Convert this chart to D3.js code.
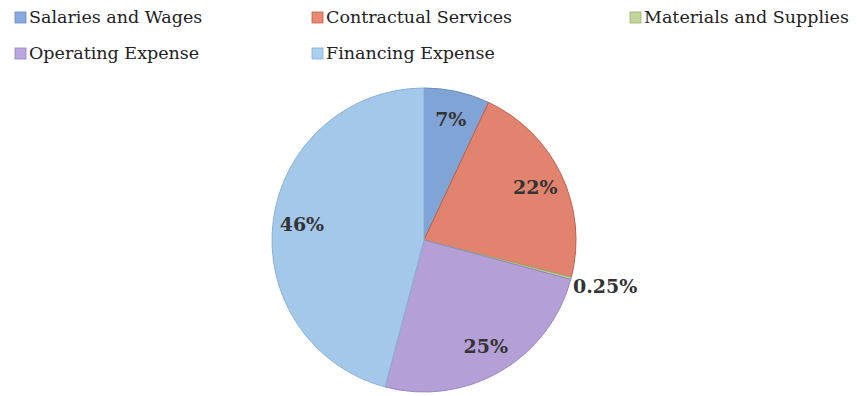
<!DOCTYPE html>
<html>
<head>
<meta charset="utf-8">
<script src="https://cdn.jsdelivr.net/npm/d3@7"></script>
<style>
  body { margin: 0; background: #fff; }
  svg { display: block; }
</style>
</head>
<body>
<svg id="chart" width="857" height="396"></svg>
<script>
const categories = ["Salaries and Wages", "Contractual Services", "Materials and Supplies", "Operating Expense", "Financing Expense"];
const values = [7, 22, 0.25, 25, 46];
const labels = ["7%", "22%", "0.25%", "25%", "46%"];
const colors = ["#86aadf", "#e98873", "#c3d59a", "#bba6df", "#a9cff1"];
const strokes = ["#6a8cc0", "#c0604c", "#9ab06a", "#9a86c0", "#88b0d6"];

const svg = d3.select("#chart");
const cx = 424, cy = 240, r = 152;

// legend
const legendPos = [[15, 17], [312, 17], [630, 17], [15, 53], [312, 53]];
const legend = svg.append("g");
categories.forEach((c, i) => {
  const g = legend.append("g").attr("transform", `translate(${legendPos[i][0]},${legendPos[i][1]})`);
  g.append("rect").attr("x", 0).attr("y", -5).attr("width", 11).attr("height", 11)
    .attr("fill", colors[i]).attr("stroke", strokes[i]).attr("stroke-width", 0.8);
  g.append("text").attr("x", 14).attr("y", 0).attr("dy", "0.35em")
    .attr("font-family", "DejaVu Serif").attr("font-size", 17.5).attr("fill", "#222")
    .text(c);
});

// gradients
const defs = svg.append("defs");
colors.forEach((col, i) => {
  const grad = defs.append("radialGradient").attr("id", "g" + i)
    .attr("gradientUnits", "userSpaceOnUse").attr("cx", cx).attr("cy", cy).attr("r", r);
  grad.append("stop").attr("offset", "0%").attr("stop-color", d3.color(col).brighter(0.15));
  grad.append("stop").attr("offset", "100%").attr("stop-color", d3.color(col).darker(0.1));
});

const pie = d3.pie().sort(null).value(d => d);
const arcs = pie(values);
const arc = d3.arc().innerRadius(0).outerRadius(r);
const labelArc = d3.arc().innerRadius(r * 0.81).outerRadius(r * 0.81);

const g = svg.append("g").attr("transform", `translate(${cx},${cy})`);
g.selectAll("path").data(arcs).join("path")
  .attr("d", arc)
  .attr("fill", (d, i) => `url(#g${i})`)
  .attr("stroke", (d, i) => strokes[i])
  .attr("stroke-width", 1);

g.selectAll("text.lbl").data(arcs).join("text")
  .attr("class", "lbl")
  .attr("font-family", "DejaVu Serif").attr("font-weight", "bold").attr("font-size", 19)
  .attr("fill", "#333")
  .attr("dy", "0.35em")
  .each(function(d, i) {
    const t = d3.select(this);
    if (i === 2) {
      const a = (d.startAngle + d.endAngle) / 2;
      t.attr("x", Math.sin(a) * (r + 2)).attr("y", -Math.cos(a) * (r + 2) + 8).attr("text-anchor", "start");
    } else {
      const [x, y] = labelArc.centroid(d);
      t.attr("x", x).attr("y", y).attr("text-anchor", "middle");
    }
  })
  .text((d, i) => labels[i]);
</script>
</body>
</html>
